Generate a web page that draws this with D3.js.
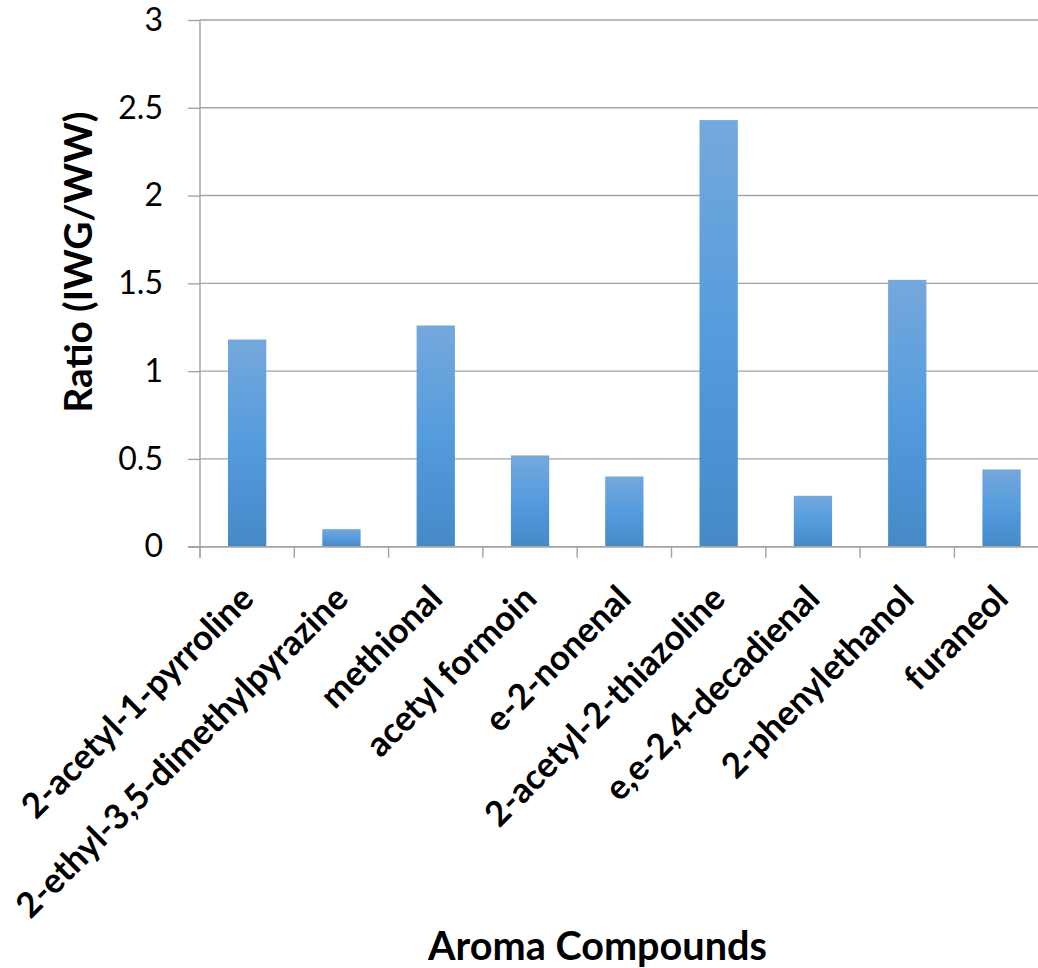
<!DOCTYPE html>
<html>
<head>
<meta charset="utf-8">
<script src="https://cdn.jsdelivr.net/npm/d3@7"></script>
<style>
  html, body { margin: 0; padding: 0; background: #ffffff; }
  svg { display: block; }
  text { font-family: Lato, "Open Sans", sans-serif; fill: #000; }
</style>
</head>
<body>
<svg id="chart" width="1038" height="968"></svg>
<script>
const categories = [
  "2-acetyl-1-pyrroline",
  "2-ethyl-3,5-dimethylpyrazine",
  "methional",
  "acetyl formoin",
  "e-2-nonenal",
  "2-acetyl-2-thiazoline",
  "e,e-2,4-decadienal",
  "2-phenylethanol",
  "furaneol"
];
const ratios = [1.18, 0.10, 1.26, 0.52, 0.40, 2.43, 0.29, 1.52, 0.44];
const yTicks = [0, 0.5, 1, 1.5, 2, 2.5, 3];
const yTitle = "Ratio (IWG/WW)";
const xTitle = "Aroma Compounds";

const svg = d3.select("#chart");
const pLeft = 200, pRight = 1048.7, pTop = 20, pBottom = 546.7;

const x = d3.scaleBand().domain(categories).range([pLeft, pRight]).paddingInner(0.594).paddingOuter(0.297);
const y = d3.scaleLinear().domain([0, 3]).range([pBottom, pTop]);

const defs = svg.append("defs");
const grad = defs.append("linearGradient").attr("id", "barGrad")
  .attr("x1", 0).attr("y1", 0).attr("x2", 0).attr("y2", 1);
grad.append("stop").attr("offset", "0%").attr("stop-color", "#75a8dc");
grad.append("stop").attr("offset", "50%").attr("stop-color", "#559cdd");
grad.append("stop").attr("offset", "100%").attr("stop-color", "#4589c8");

const gridColor = "#a3a3a3";

// Gridlines + y axis labels
const yAxis = d3.axisLeft(y).tickValues(yTicks).tickFormat(d => String(d))
  .tickSize(12).tickPadding(25);
const gy = svg.append("g").attr("transform", `translate(${pLeft},0)`).call(yAxis);
gy.select(".domain").remove();
gy.selectAll(".tick line").attr("stroke", gridColor).attr("stroke-width", 1.4);
gy.selectAll(".tick text").style("font-size", "32px").style("font-family", "Lato, 'Open Sans', sans-serif").attr("fill", "#000");

svg.append("g").selectAll("line").data(yTicks).join("line")
  .attr("x1", pLeft).attr("x2", pRight)
  .attr("y1", d => y(d)).attr("y2", d => y(d))
  .attr("stroke", gridColor).attr("stroke-width", 1.4);

// Bars
svg.append("g").selectAll("rect").data(ratios).join("rect")
  .attr("x", (d, i) => x(categories[i]))
  .attr("width", x.bandwidth())
  .attr("y", d => y(d))
  .attr("height", d => y(0) - y(d))
  .attr("fill", "url(#barGrad)");

// Vertical axis line
svg.append("line").attr("x1", pLeft).attr("x2", pLeft).attr("y1", pTop).attr("y2", pBottom + 11)
  .attr("stroke", gridColor).attr("stroke-width", 1.4);
// x baseline
svg.append("line").attr("x1", pLeft - 12).attr("x2", pRight).attr("y1", pBottom).attr("y2", pBottom)
  .attr("stroke", gridColor).attr("stroke-width", 1.4);

// x category boundary ticks
const step = x.step();
const boundaries = d3.range(categories.length + 1).map(i => pLeft + i * step);
svg.append("g").selectAll("line").data(boundaries).join("line")
  .attr("x1", d => d).attr("x2", d => d)
  .attr("y1", pBottom).attr("y2", pBottom + 11)
  .attr("stroke", gridColor).attr("stroke-width", 1.4);

// x labels
const xl = svg.append("g").selectAll("text").data(categories).join("text")
  .attr("transform", d => `translate(${x(d) + x.bandwidth() / 2},592) rotate(-45)`)
  .attr("text-anchor", "end")
  .attr("dy", "0.35em")
  .style("font-weight", "bold")
  .style("font-size", "30px")
  .text(d => d);
const longest = xl.filter(d => d === "2-ethyl-3,5-dimethylpyrazine").node();
const lenL = longest.getComputedTextLength();
const fsX = 30 * 452 / lenL;
xl.style("font-size", fsX + "px");

// y title
const yt = svg.append("text")
  .attr("transform", "translate(92,262) rotate(-90)")
  .attr("text-anchor", "middle")
  .style("font-weight", "bold")
  .style("font-size", "32px")
  .text(yTitle);
yt.style("font-size", (32 * 301 / yt.node().getComputedTextLength()) + "px");

// x title
const xt = svg.append("text")
  .attr("x", 597.5).attr("y", 960)
  .attr("text-anchor", "middle")
  .style("font-weight", "bold")
  .style("font-size", "34px")
  .text(xTitle);
xt.style("font-size", (34 * 339 / xt.node().getComputedTextLength()) + "px");
</script>
</body>
</html>
